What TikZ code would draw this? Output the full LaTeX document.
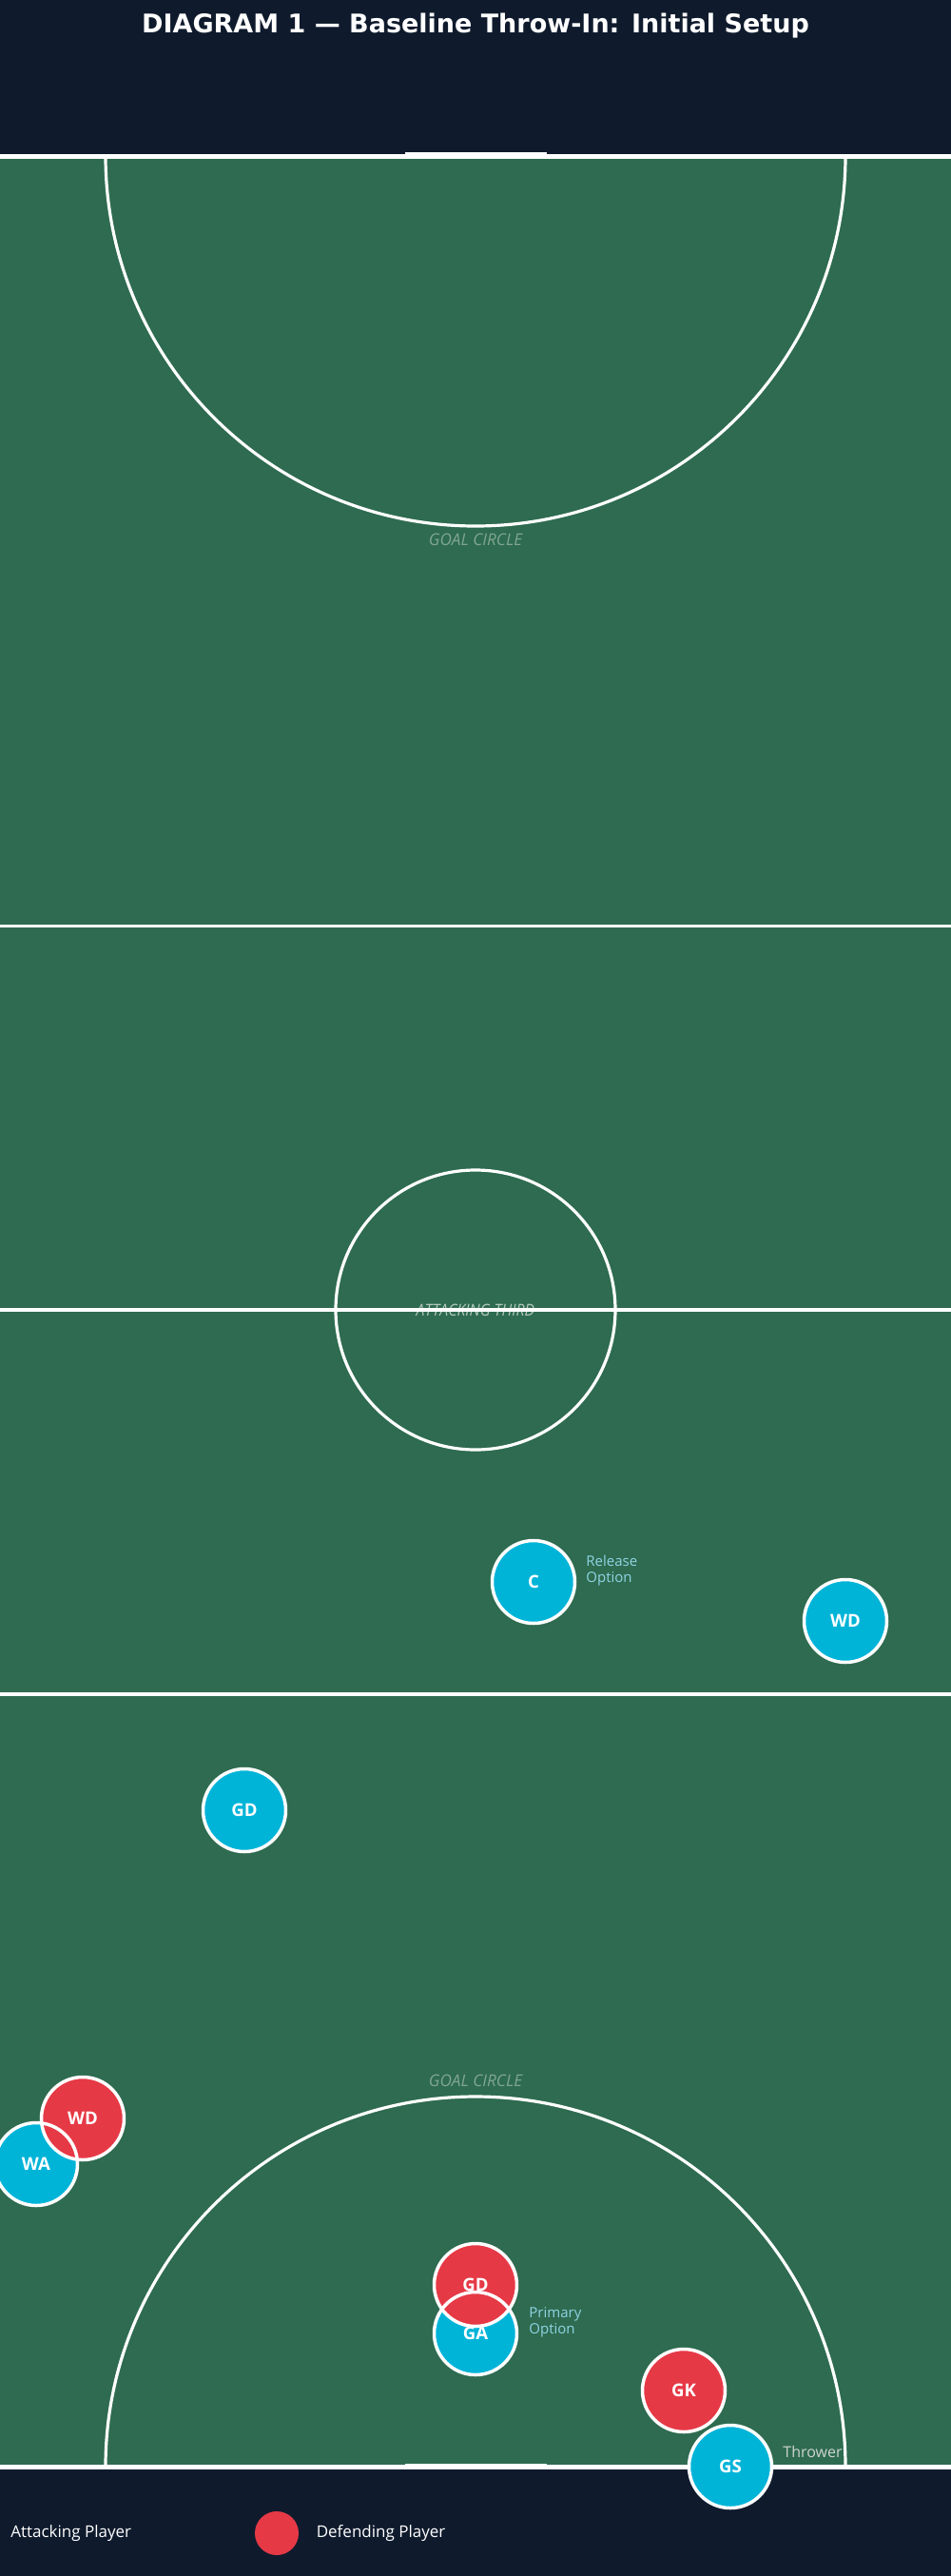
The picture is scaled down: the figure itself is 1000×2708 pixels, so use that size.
\documentclass[tikz,border=0pt]{standalone}
\usepackage{fontspec}
\setmainfont{Open Sans}
\newfontfamily\titlefont{DejaVu Sans}
\usetikzlibrary{positioning}
\definecolor{navy}{RGB}{15,27,45}
\definecolor{pitch}{RGB}{46,107,80}
\definecolor{attack}{RGB}{0,180,216}
\definecolor{defend}{RGB}{230,57,70}
\definecolor{notecol}{RGB}{144,212,228}
\definecolor{zonecol}{RGB}{128,166,146}
\definecolor{midcol}{RGB}{180,200,190}
\definecolor{throwcol}{RGB}{205,212,208}

\begin{document}
\begin{tikzpicture}[x=0.5pt,y=-0.5pt,
  court line/.style={white,line width=1.6pt},
  end line/.style={white,line width=2.5pt},
  attack node/.style={circle,fill=attack,minimum size=43.5pt,inner sep=0pt,
    text=white,font=\fontsize{9.3}{10}\selectfont\bfseries},
  defend node/.style={attack node,fill=defend},
  ring/.style={white,line width=1.75pt},
  note/.style={anchor=west,inner sep=0pt,align=left,text=notecol,
    font=\fontsize{7.5}{8.5}\selectfont},
  zone text/.style={inner sep=0pt,text=zonecol,font=\fontsize{8.6}{9}\selectfont\itshape},
  legend text/.style={inner sep=0pt,text=white,font=\fontsize{8.5}{10}\selectfont}]
    \useasboundingbox (0,0) rectangle (1000,2708);
    \fill[navy] (0,0) rectangle (1000,2708);
    \fill[pitch] (0,164) rectangle (1000,2593);
    \node[inner sep=0pt,text=white,font=\titlefont\fontsize{13.5}{15}\selectfont\bfseries,anchor=base]
      (title) at (500,35) {DIAGRAM 1 — Baseline Throw-In: Initial Setup};
    % zone labels
    \node[zone text] (goaltop) at (500,567) {GOAL CIRCLE};
    \node[zone text] (goalbot) at (500,2187) {GOAL CIRCLE};
    \node[zone text,text=midcol,xscale=0.92] (centre) at (500,1377) {ATTACKING THIRD};
    % court
    \draw[court line] (0,973.5) -- (1000,973.5);
    \draw[court line] (0,1781) -- (1000,1781);
    \draw[court line] (0,1377) -- (1000,1377);
    \draw[court line] (500,1377) circle[radius=147];
    \begin{scope}
      \clip (0,164) rectangle (1000,2593);
      \draw[court line] (500,164) circle[radius=389];
      \draw[court line] (500,2593) circle[radius=389];
    \end{scope}
    \draw[end line] (0,164) -- (1000,164);
    \draw[end line] (0,2593) -- (1000,2593);
    \draw[white,line width=2.9pt] (426,163) -- (575,163);
    \draw[white,line width=2.9pt] (426,2593) -- (575,2593);
    % attacking players
    \node[attack node] (C) at (561,1663) {C};
    \node[attack node] (WDa) at (889,1704) {WD};
    \node[attack node] (GDa) at (257,1903) {GD};
    \node[attack node] (WA) at (38,2275) {WA};
    \node[attack node] (GA) at (500,2453) {GA};
    \node[attack node] (GS) at (768,2593) {GS};
    % defending players
    \node[defend node] (WDd) at (87,2227) {WD};
    \node[defend node] (GDd) at (500,2402) {GD};
    \node[defend node] (GK) at (719,2513) {GK};
    \foreach \p in {C,WDa,GDa,WA,GA,GS,WDd,GDd,GK}
      \draw[ring] (\p.center) circle[radius=43.5];
    % notes
    \node[note] (relC) at (616,1651) {Release\\Option};
    \node[note] (priGA) at (556,2441) {Primary\\Option};
    \node[note,text=throwcol,font=\fontsize{8}{9}\selectfont] (thr) at (823,2577) {Thrower};
    % legend
    \node[legend text,anchor=west] (legA) at (11,2663) {Attacking Player};
    \node[circle,fill=defend,minimum size=23pt,inner sep=0pt] (legD) at (291,2663) {};
    \node[legend text,right=9pt of legD] (legDt) {Defending Player};
\end{tikzpicture}
\end{document}
